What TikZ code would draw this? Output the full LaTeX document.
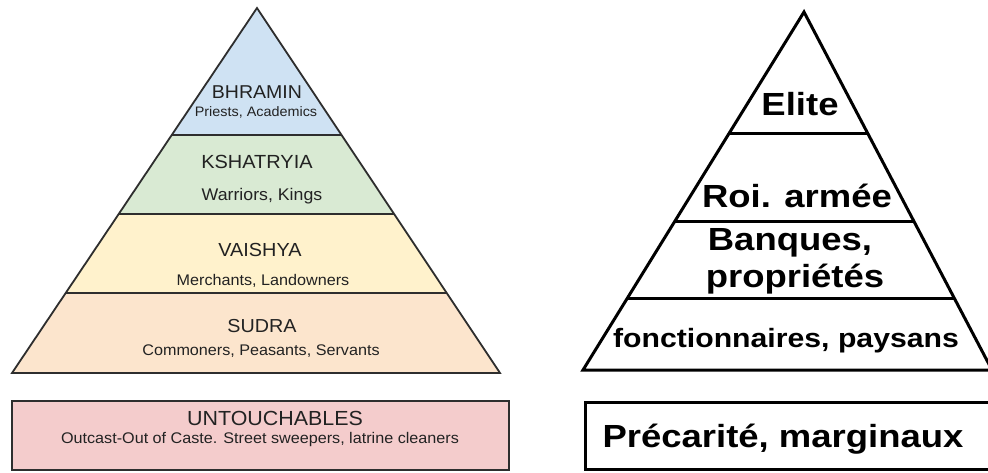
\documentclass[tikz,border=0pt]{standalone}
\usepackage{fontspec}
\setmainfont{Liberation Sans}
\newfontfamily\lfont[FakeStretch=1.05]{Liberation Sans}
\newfontfamily\rfont[FakeStretch=1.14]{Liberation Sans}
\usetikzlibrary{calc}
\definecolor{cbhr}{HTML}{CFE2F3}
\definecolor{cksh}{HTML}{D9EAD3}
\definecolor{cvai}{HTML}{FFF2CC}
\definecolor{csud}{HTML}{FCE5CD}
\definecolor{cunt}{HTML}{F4CCCC}
\definecolor{lline}{HTML}{2E2E2E}
\definecolor{ltext}{HTML}{222222}
\tikzset{
  ltxt/.style={anchor=base, inner sep=0pt, text=ltext, font=\lfont\fontsize{#1}{#1}\selectfont},
  rtxt/.style={anchor=base, inner sep=0pt, text=black, font=\rfont\bfseries\fontsize{#1}{#1}\selectfont},
  lshape/.style={draw=lline, line width=1.8pt, line join=miter},
  rshape/.style={draw=black, line width=3pt, line join=miter}
}
\begin{document}
\begin{tikzpicture}[x=1pt,y=-1pt]
\useasboundingbox (0,0) rectangle (988,472);
\fill[white] (0,0) rectangle (988,472);
\clip (0,0) rectangle (988,472);
% ---------- left pyramid ----------
\coordinate (LA) at (257,8);
\coordinate (LB) at (12,373);
\coordinate (LC) at (500,373);
\coordinate (L1l) at ($(LA)!0.348!(LB)$);
\coordinate (L1r) at ($(LA)!0.348!(LC)$);
\coordinate (L2l) at ($(LA)!0.5644!(LB)$);
\coordinate (L2r) at ($(LA)!0.5644!(LC)$);
\coordinate (L3l) at ($(LA)!0.7808!(LB)$);
\coordinate (L3r) at ($(LA)!0.7808!(LC)$);
\fill[cbhr] (LA) -- (L1l) -- (L1r) -- cycle;
\fill[cksh] (L1l) -- (L2l) -- (L2r) -- (L1r) -- cycle;
\fill[cvai] (L2l) -- (L3l) -- (L3r) -- (L2r) -- cycle;
\fill[csud] (L3l) -- (LB) -- (LC) -- (L3r) -- cycle;
\draw[lshape] (L1l) -- (L1r);
\draw[lshape] (L2l) -- (L2r);
\draw[lshape] (L3l) -- (L3r);
\draw[lshape] (LA) -- (LB) -- (LC) -- cycle;
\node[ltxt=18.6] (bhr) at (257,98) {BHRAMIN};
\node[ltxt=13.7] (bhrs) at (256,116) {Priests, Academics};
\node[ltxt=19] (ksh) at (257,168) {KSHATRYIA};
\node[ltxt=16.9] (kshs) at (262,200) {Warriors, Kings};
\node[ltxt=18.9] (vai) at (260,256) {VAISHYA};
\node[ltxt=15.4] (vais) at (263,285) {Merchants, Landowners};
\node[ltxt=18.8] (sud) at (262,332) {SUDRA};
\node[ltxt=15.4] (suds) at (261,355) {Commoners, Peasants, Servants};
\path[lshape, fill=cunt] (12,401) rectangle (509,470);
\node[ltxt=20.4] (unt) at (275,425) {UNTOUCHABLES};
\node[ltxt=15.4] (unts) at (260,443) {Outcast-Out of Caste. Street sweepers, latrine cleaners};
% ---------- right pyramid ----------
\coordinate (RA) at (804,12);
\coordinate (RB) at (583,370);
\coordinate (RC) at (992,370);
\draw[rshape] ($(RA)!0.338!(RB)$) -- ($(RA)!0.338!(RC)$);
\draw[rshape] ($(RA)!0.584!(RB)$) -- ($(RA)!0.584!(RC)$);
\draw[rshape] ($(RA)!0.799!(RB)$) -- ($(RA)!0.799!(RC)$);
\draw[rshape] (RA) -- (RB) -- (RC) -- cycle;
\node[rtxt=32] (eli) at (800,115) {Elite};
\node[rtxt=32] (roi) at (797,207) {Roi. armée};
\node[rtxt=32] (ban) at (790,250) {Banques,};
\node[rtxt=32] (pro) at (795,287) {propriétés};
\node[rtxt=26.5] (fon) at (786,347) {fonctionnaires, paysans};
\draw[rshape] (585,402) rectangle (996,469);
\node[rtxt=32] (pre) at (783,447) {Précarité, marginaux};
\end{tikzpicture}
\end{document}
